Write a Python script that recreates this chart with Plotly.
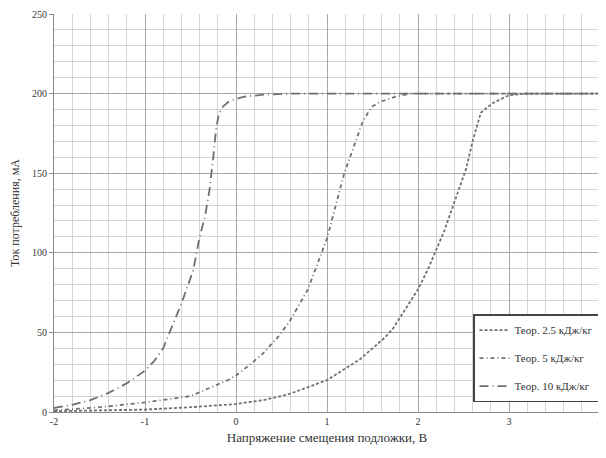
import plotly.graph_objects as go

# Data
x_25 = [-2, -1.5, -1, -0.5, 0, 0.3, 0.57, 1.0, 1.36, 1.64, 1.72, 2.0, 2.12, 2.29, 2.39, 2.53, 2.6, 2.69, 2.82, 3.0, 3.2, 3.5, 4]
y_25 = [0.5, 1, 1.5, 3, 5, 7.5, 11, 20, 33, 47, 52, 77, 91, 114, 130, 153, 170, 188, 194, 199, 200, 200, 200]

x_5 = [-2, -1.5, -1, -0.5, -0.09, 0, 0.16, 0.3, 0.46, 0.59, 0.79, 0.95, 1.0, 1.19, 1.39, 1.45, 1.5, 1.59, 1.75, 1.92, 2.2, 3, 4]
y_5 = [1, 3, 6, 10, 20, 23, 30, 37, 47, 57, 77, 102, 109, 150, 182, 188, 192, 195, 198, 200, 200, 200, 200]

x_10 = [-2, -1.8, -1.6, -1.4, -1.2, -1.0, -0.9, -0.8, -0.73, -0.6, -0.47, -0.4, -0.34, -0.29, -0.25, -0.22, -0.19, -0.14, -0.08, 0.08, 0.3, 0.6, 1, 2, 3, 4]
y_10 = [2.5, 4.5, 7.5, 12, 18, 26, 32, 40, 50, 68, 89, 110, 123, 140, 160, 177, 187, 192, 195, 198, 199.3, 200, 200, 200, 200, 200]

names = ["Теор. 2.5 кДж/кг", "Теор. 5 кДж/кг", "Теор. 10 кДж/кг"]
x_ticks = [-2, -1, 0, 1, 2, 3, 4]
y_ticks = [0, 50, 100, 150, 200, 250]

FONT = "Liberation Serif"
line_col = "#707070"

fig = go.Figure()
fig.add_trace(go.Scatter(x=x_25, y=y_25, mode="lines", name=names[0], legendgroup="a",
                         line=dict(color=line_col, width=1.8, dash="3px,2px")))
fig.add_trace(go.Scatter(x=x_5, y=y_5, mode="lines", name=names[1], legendgroup="b",
                         line=dict(color=line_col, width=1.8, dash="4px,3px,1px,3px")))
fig.add_trace(go.Scatter(x=x_10, y=y_10, mode="lines", name=names[2], legendgroup="c",
                         line=dict(color=line_col, width=1.8, dash="9px,4px,1px,4px")))

# The page body has an 8px margin, so the figure is sized to fit the 606x458 window
fig.update_layout(
    width=598, height=442,
    margin=dict(l=46, r=6, t=6, b=38),
    paper_bgcolor="white", plot_bgcolor="white",
    font=dict(family=FONT, size=11, color="#333"),
    showlegend=True,
    legend=dict(x=1.0, y=0.246, xanchor="right", yanchor="top",
                bgcolor="white", bordercolor="#444", borderwidth=1.5,
                font=dict(family=FONT, size=11, color="#333"),
                tracegroupgap=9, itemwidth=30),
    xaxis=dict(range=[-2, 4], tickvals=x_ticks, ticktext=[str(v) for v in x_ticks],
               showgrid=True, gridcolor="#a8a8a8", gridwidth=1.2,
               minor=dict(dtick=0.2, showgrid=True, gridcolor="#d4d4d4", gridwidth=1),
               zeroline=False, showline=True, linecolor="#888", linewidth=1,
               ticks="", tickfont=dict(size=10), automargin=False,
               ticklabeloverflow="allow",
               title=dict(text="Напряжение смещения подложки, В", font=dict(size=13), standoff=6)),
    yaxis=dict(range=[0, 250], tickvals=y_ticks, ticktext=[str(v) for v in y_ticks],
               showgrid=True, gridcolor="#a8a8a8", gridwidth=1.2,
               minor=dict(dtick=10, showgrid=True, gridcolor="#d4d4d4", gridwidth=1),
               zeroline=False, showline=True, linecolor="#888", linewidth=1,
               ticks="outside", ticklen=4, tickcolor="#888", tickfont=dict(size=10),
               automargin=False,
               title=dict(text="Ток потребления, мА", font=dict(size=12), standoff=10)),
)

fig.write_html("out.html")
